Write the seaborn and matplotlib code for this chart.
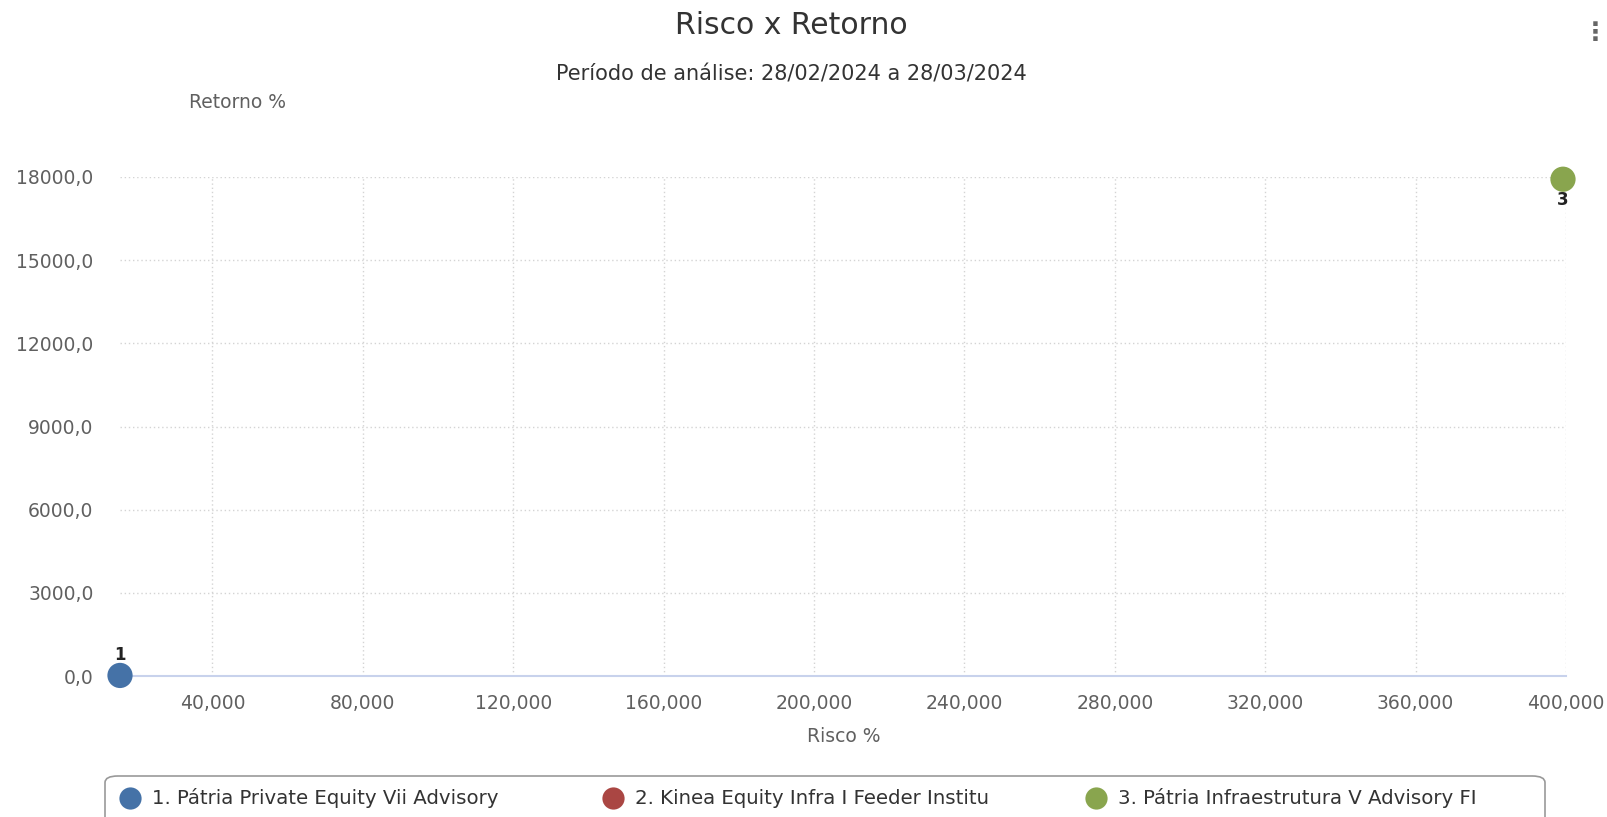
import pandas as pd
import numpy as np
import matplotlib
matplotlib.use("Agg")
from matplotlib import pyplot as plt
from matplotlib.patches import FancyBboxPatch
import seaborn as sns

# Dados do grafico Risco x Retorno
fundos = ["1. Pátria Private Equity Vii Advisory",
          "2. Kinea Equity Infra I Feeder Institu",
          "3. Pátria Infraestrutura V Advisory FI"]
rotulos = ["1", "2", "3"]
risco = [15450.0, np.nan, 399200.0]
retorno = [20.0, np.nan, 17920.0]
cores = ["#4572A7", "#AA4643", "#89A54E"]

x_ticks = [40000, 80000, 120000, 160000, 200000, 240000, 280000, 320000, 360000, 400000]
y_ticks = [0, 3000, 6000, 9000, 12000, 15000, 18000]

df = pd.DataFrame({"fundo": fundos, "rotulo": rotulos, "risco": risco, "retorno": retorno})

W, H = 1608, 817

sns.set_style("white")
plt.rcParams['font.family'] = ['DejaVu Sans']

fig = plt.figure(figsize=(W / 100, H / 100), dpi=100)
ax = fig.add_axes([120 / W, 1 - 676 / H, (1566 - 120) / W, (676 - 177) / H])

sns.scatterplot(data=df, x="risco", y="retorno", hue="fundo", palette=cores,
                hue_order=fundos, s=330, edgecolor="none", legend=False,
                clip_on=False, zorder=5, ax=ax)

ax.set_xlim(df["risco"].min(), x_ticks[-1])
ax.set_ylim(y_ticks[0], y_ticks[-1])

# rotulos dos pontos: acima, ou abaixo se estiver no topo
for _, r in df.dropna().iterrows():
    off = -15 if r["retorno"] >= y_ticks[-1] * 0.98 else 15
    ax.annotate(r["rotulo"], (r["risco"], r["retorno"]), xytext=(0, off),
                textcoords="offset points", ha="center", va="center",
                fontsize=12, fontweight="bold", color="#222222", zorder=6,
                annotation_clip=False)

ax.set_xticks(x_ticks)
ax.set_xticklabels([f"{v / 1000:.3f}".replace(".", ",") for v in x_ticks])
ax.set_yticks(y_ticks)
ax.set_yticklabels([f"{v:.1f}".replace(".", ",") for v in y_ticks])
ax.tick_params(axis="both", length=0, labelsize=13.5, colors="#606060")
ax.tick_params(axis="x", pad=13)
ax.tick_params(axis="y", pad=19)

ax.grid(True, linestyle=(0, (1, 2)), color="#d4d4d4", linewidth=1)
for s in ["top", "right", "left"]:
    ax.spines[s].set_visible(False)
ax.spines["bottom"].set_color("#C8D2EC")
ax.spines["bottom"].set_linewidth(1.5)

ax.set_xlabel("")
ax.set_ylabel("")
fig.text(844 / W, 1 - 736 / H, "Risco %", ha="center", va="center",
         fontsize=13.5, color="#606060")
fig.text(238 / W, 1 - 102 / H, "Retorno %", ha="center", va="center",
         fontsize=13.5, color="#606060")

fig.text(791 / W, 1 - 25 / H, "Risco x Retorno", ha="center", va="center",
         fontsize=21.5, color="#333333")
fig.text(791 / W, 1 - 74 / H, "Período de análise: 28/02/2024 a 28/03/2024",
         ha="center", va="center", fontsize=15, color="#333333")
fig.text(1608 / W, 1 - 33 / H, "⋮", ha="right", va="center",
         fontsize=18, color="#666666", fontweight="bold")

# legenda desenhada a mao (caixa arredondada cortada na base)
caixa = FancyBboxPatch((105 / W, -20 / H), 1440 / W, (817 - 776 + 20) / H,
                       boxstyle="round,pad=0,rounding_size=0.008",
                       transform=fig.transFigure, facecolor="white",
                       edgecolor="#999999", linewidth=1.2)
fig.patches.append(caixa)
for i, (nome, cor) in enumerate(zip(fundos, cores)):
    x0 = 130 + i * 483
    fig.lines.append(plt.Line2D([x0 / W], [1 - 798 / H], marker="o", linestyle="",
                                markersize=16, markerfacecolor=cor,
                                markeredgecolor="none", transform=fig.transFigure))
    fig.text((x0 + 22) / W, 1 - 798 / H, nome, ha="left", va="center",
             fontsize=14.2, color="#333333")

plt.savefig("out.png", dpi=100)
